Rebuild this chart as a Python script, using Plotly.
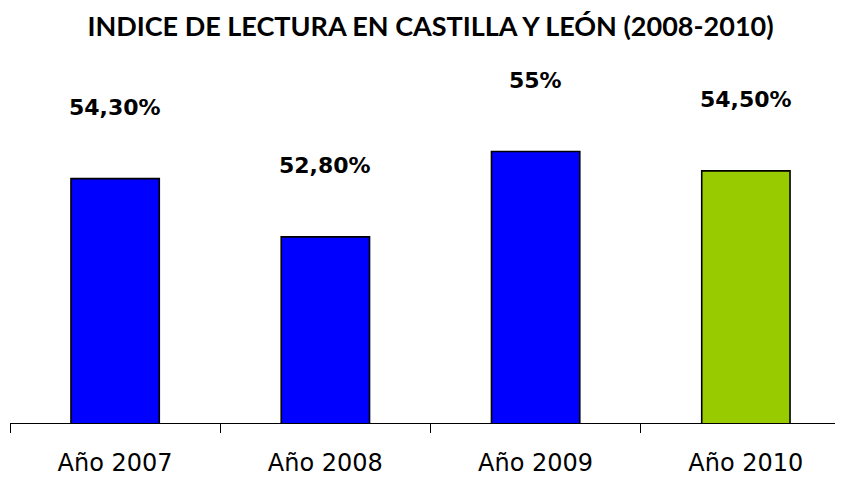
import plotly.graph_objects as go

categories = ["Año 2007", "Año 2008", "Año 2009", "Año 2010"]
values = [54.3, 52.8, 55.0, 54.5]
labels = ["54,30%", "52,80%", "55%", "54,50%"]
colors = ["#0000FF", "#0000FF", "#0000FF", "#99CC00"]

fig = go.Figure()
fig.add_trace(go.Bar(
    x=categories, y=values, width=0.42,
    marker=dict(color=colors, line=dict(color="#000000", width=1.6)),
    hoverinfo="skip",
))

for c, v, t in zip(categories, values, labels):
    fig.add_annotation(x=c, y=v, text="<b>" + t + "</b>", showarrow=False, yanchor="middle",
                       yshift=71, font=dict(family="DejaVu Sans", size=22, color="#000000"),
                       xref="x", yref="y")

fig.update_layout(
    width=843, height=478,
    margin=dict(l=2, r=0, t=52, b=63),
    paper_bgcolor="white", plot_bgcolor="white",
    showlegend=False,
    title=dict(text="<b>INDICE DE LECTURA EN CASTILLA Y LEÓN (2008-2010)</b>",
               x=422.5 / 843, xanchor="center", y=1 - 19 / 478, yanchor="middle",
               font=dict(family="Lato", size=27, color="#000000")),
    xaxis=dict(range=[-0.5, 3.5], showline=True, linecolor="#000000", linewidth=1,
               ticks="outside", ticklen=9, tickcolor="#000000", tickson="boundaries",
               tickfont=dict(family="DejaVu Sans", size=24, color="#000000"),
               ticklabelstandoff=18, showgrid=False),
    yaxis=dict(range=[48, 57.36], visible=False, showgrid=False, zeroline=False),
    bargap=0.58,
)

fig.write_html("out.html")
